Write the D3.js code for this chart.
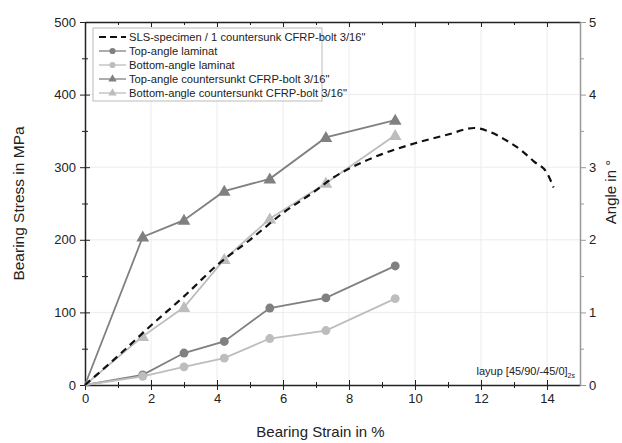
<!DOCTYPE html>
<meta charset="utf-8">
<style>
  body { margin: 0; background: #fff; }
  svg { font-family: "Liberation Sans", Arial, sans-serif; }
  .tick text { fill: #222; }
</style>
<body>
<svg id="chart" width="622" height="443"></svg>
<script src="https://d3js.org/d3.v7.min.js"></script>
<script>

  // strain in %, stress in MPa
  const slsStrain = [0, 1, 2, 3, 4, 5, 6, 7, 7.5, 8, 9, 10, 11, 11.8, 12.3, 12.8, 13.2, 13.6, 14, 14.2];
  const slsStress = [0, 40, 82, 122, 165, 200, 237, 268, 285, 298, 318, 333, 345, 354, 348, 336, 324, 308, 292, 272];

  const testStrain = [0, 1.75, 3.0, 4.22, 5.6, 7.3, 9.4];
  const topLaminat = [0, 14, 44, 60, 106, 120, 164];
  const bottomLaminat = [0, 12, 25, 37, 64, 75, 119];
  const topCountersunk = [0, 204, 227, 267, 284, 341, 365];
  const bottomCountersunk = [0, 67, 107, 173, 229, 278, 344];

  const legendLabels = [
    'SLS-specimen / 1 countersunk CFRP-bolt 3/16"',
    'Top-angle laminat',
    'Bottom-angle laminat',
    'Top-angle countersunkt CFRP-bolt 3/16"',
    'Bottom-angle countersunkt CFRP-bolt 3/16"'
  ];

  const darkGray = '#808080';
  const lightGray = '#bdbdbd';

  var svg = d3.select("#chart"),
    margin = {top: 22, right: 42, bottom: 58, left: 85},
    width = +svg.attr("width") - margin.left - margin.right,
    height = +svg.attr("height") - margin.top - margin.bottom;

  const g = svg.append("g").attr("transform", `translate(${margin.left},${margin.top})`);

  const x = d3.scaleLinear().domain([0, 15]).range([0, width]);
  const y = d3.scaleLinear().domain([0, 500]).range([height, 0]);
  const yAngle = d3.scaleLinear().domain([0, 5]).range([height, 0]);

  // faint grid
  g.append("g").selectAll("line")
    .data(d3.range(2, 15, 2)).enter().append("line")
    .attr("x1", d => x(d)).attr("x2", d => x(d))
    .attr("y1", 0).attr("y2", height)
    .attr("stroke", "#ececec");
  g.append("g").selectAll("line")
    .data(d3.range(100, 500, 100)).enter().append("line")
    .attr("x1", 0).attr("x2", width)
    .attr("y1", d => y(d)).attr("y2", d => y(d))
    .attr("stroke", "#ececec");

  function styleAxis(sel, color) {
    sel.select(".domain").attr("stroke", color).attr("stroke-width", 1.5);
    sel.selectAll(".tick line").attr("stroke", color);
    sel.selectAll(".tick text").attr("fill", color);
  }

  // bottom axis
  const xMinor = g.append("g").attr("transform", `translate(0,${height})`)
    .call(d3.axisBottom(x).tickValues(d3.range(1, 15, 2)).tickSize(3).tickFormat(""));
  xMinor.select(".domain").remove();
  xMinor.selectAll(".tick line").attr("y1", -3).attr("stroke", "#222");
  const xAxis = g.append("g").attr("transform", `translate(0,${height})`)
    .call(d3.axisBottom(x).tickValues(d3.range(0, 15, 2)).tickSize(5).tickPadding(4).tickSizeOuter(0));
  xAxis.selectAll(".tick line").attr("y1", -5);
  xAxis.selectAll(".tick text").style("font-size", "13px");
  styleAxis(xAxis, "#222");

  // top axis
  const xTop = g.append("g")
    .call(d3.axisTop(x).tickValues(d3.range(0, 16, 1)).tickSize(0).tickFormat(""));
  xTop.selectAll(".tick line").attr("y2", d => d % 2 === 0 ? 5 : 3).attr("stroke", "#222");
  xTop.select(".domain").attr("stroke", "#222").attr("stroke-width", 1.5);

  // left axis
  const yMinor = g.append("g")
    .call(d3.axisLeft(y).tickValues(d3.range(50, 500, 100)).tickSize(3).tickFormat(""));
  yMinor.select(".domain").remove();
  yMinor.selectAll(".tick line").attr("x1", 3).attr("stroke", "#222");
  const yAxis = g.append("g")
    .call(d3.axisLeft(y).tickValues(d3.range(0, 501, 100)).tickSize(5).tickPadding(4).tickSizeOuter(0));
  yAxis.selectAll(".tick line").attr("x1", 5);
  yAxis.selectAll(".tick text").style("font-size", "13px");
  styleAxis(yAxis, "#222");

  // right angle axis
  const aMinor = g.append("g").attr("transform", `translate(${width},0)`)
    .call(d3.axisRight(yAngle).tickValues(d3.range(0.5, 5, 1)).tickSize(4).tickFormat(""));
  aMinor.select(".domain").remove();
  aMinor.selectAll(".tick line").attr("stroke", "#999");
  const aAxis = g.append("g").attr("transform", `translate(${width},0)`)
    .call(d3.axisRight(yAngle).tickValues(d3.range(0, 6, 1)).tickFormat(d3.format("d"))
      .tickSize(6).tickPadding(3).tickSizeOuter(0));
  aAxis.selectAll(".tick text").style("font-size", "13px");
  styleAxis(aAxis, "#999");

  // axis titles
  svg.append("text")
    .attr("x", margin.left + x(7.5) - 12).attr("y", 437)
    .attr("text-anchor", "middle").style("font-size", "15px").attr("fill", "#222")
    .text("Bearing Strain in %");
  svg.append("text")
    .attr("transform", `translate(24,${margin.top + height / 2}) rotate(-90)`)
    .attr("text-anchor", "middle").style("font-size", "15.5px").attr("fill", "#222")
    .text("Bearing Stress in MPa");
  svg.append("text")
    .attr("transform", `translate(616,192) rotate(-90)`)
    .attr("text-anchor", "middle").style("font-size", "15px").attr("fill", "#222")
    .text("Angle in °");

  // series
  const line = d3.line().x(d => x(d[0])).y(d => y(d[1]));

  const series = [
    {values: topLaminat, color: darkGray, marker: "circle"},
    {values: bottomLaminat, color: lightGray, marker: "circle"},
    {values: topCountersunk, color: darkGray, marker: "triangle"},
    {values: bottomCountersunk, color: lightGray, marker: "triangle"}
  ];

  const circleSym = d3.symbol().type(d3.symbolCircle).size(62);
  const triSym = d3.symbol().type(d3.symbolTriangle).size(70);

  series.forEach(s => {
    const pts = testStrain.map((v, i) => [v, s.values[i]]);
    g.append("path").datum(pts)
      .attr("d", line).attr("fill", "none")
      .attr("stroke", s.color).attr("stroke-width", 1.8);
    g.append("g").selectAll("path")
      .data(pts.slice(1)).enter().append("path")
      .attr("transform", d => `translate(${x(d[0])},${y(d[1]) + (s.marker === "triangle" ? 1 : 0)})`)
      .attr("d", s.marker === "circle" ? circleSym : triSym)
      .attr("fill", s.color);
  });

  const slsPts = slsStrain.map((v, i) => [v, slsStress[i]]);
  g.append("path").datum(slsPts)
    .attr("d", d3.line().curve(d3.curveMonotoneX).x(d => x(d[0])).y(d => y(d[1])))
    .attr("fill", "none").attr("stroke", "#111")
    .attr("stroke-width", 2.2).attr("stroke-dasharray", "7,5");

  // annotation
  const ann = g.append("text")
    .attr("x", width - 5).attr("y", height - 10)
    .attr("text-anchor", "end").style("font-size", "11px").attr("fill", "#222");
  ann.append("tspan").text("layup [45/90/-45/0]");
  ann.append("tspan").attr("dy", 3).style("font-size", "7px").text("2s");

  // legend
  const legend = g.append("g").attr("transform", "translate(8,6)");
  legend.append("rect")
    .attr("width", 229).attr("height", 73)
    .attr("fill", "#fff").attr("stroke", "#bbb");
  const legendStyles = [
    {color: "#111", marker: null, dash: "7,4"},
    {color: darkGray, marker: "circle"},
    {color: lightGray, marker: "circle"},
    {color: darkGray, marker: "triangle"},
    {color: lightGray, marker: "triangle"}
  ];
  legendLabels.forEach((label, i) => {
    const row = legend.append("g").attr("transform", `translate(0,${9 + i * 14})`);
    const st = legendStyles[i];
    row.append("line")
      .attr("x1", 6).attr("x2", 33)
      .attr("stroke", st.color)
      .attr("stroke-width", st.dash ? 2.2 : 1.3)
      .attr("stroke-dasharray", st.dash || null);
    if (st.marker) {
      row.append("path")
        .attr("transform", "translate(19.5,0)")
        .attr("d", d3.symbol().type(st.marker === "circle" ? d3.symbolCircle : d3.symbolTriangle).size(30))
        .attr("fill", st.color);
    }
    row.append("text")
      .attr("x", 36).attr("y", 4)
      .style("font-size", "11.2px").attr("fill", "#222")
      .text(label);
  });

</script>
</body>
